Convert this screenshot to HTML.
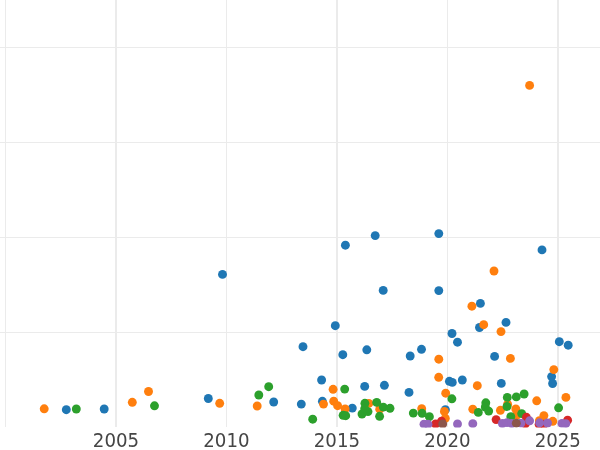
<!DOCTYPE html>
<html><head><meta charset="utf-8"><title>chart</title>
<style>
html,body{margin:0;padding:0;background:#fff;}
body{width:600px;height:450px;overflow:hidden;}
svg{display:block;will-change:transform;}
text{font-family:"DejaVu Sans","Liberation Sans",sans-serif;font-size:18.2px;fill:#454545;}
</style></head><body>
<svg width="600" height="450" viewBox="0 0 600 450">
<rect width="600" height="450" fill="#ffffff"/>
<defs><clipPath id="ax"><rect x="0" y="0" width="600" height="427.4"/></clipPath></defs>
<g stroke="#ebebeb" fill="none">
<line x1="5.5" y1="0" x2="5.5" y2="427" stroke-width="1"/>
<line x1="116" y1="0" x2="116" y2="427" stroke-width="2"/>
<line x1="226.5" y1="0" x2="226.5" y2="427" stroke-width="1"/>
<line x1="337" y1="0" x2="337" y2="427" stroke-width="2"/>
<line x1="447.5" y1="0" x2="447.5" y2="427" stroke-width="1"/>
<line x1="558" y1="0" x2="558" y2="427" stroke-width="2"/>
<line x1="0" y1="47.5" x2="600" y2="47.5" stroke-width="1"/>
<line x1="0" y1="142.5" x2="600" y2="142.5" stroke-width="1"/>
<line x1="0" y1="237.5" x2="600" y2="237.5" stroke-width="1"/>
<line x1="0" y1="332.5" x2="600" y2="332.5" stroke-width="1"/>
</g>
<g clip-path="url(#ax)">
<g fill="#1f77b4">
<circle cx="66.3" cy="409.7" r="4.45"/>
<circle cx="104.2" cy="409" r="4.45"/>
<circle cx="208.3" cy="398.5" r="4.45"/>
<circle cx="273.7" cy="402" r="4.45"/>
<circle cx="301.3" cy="404.1" r="4.45"/>
<circle cx="321.6" cy="380" r="4.45"/>
<circle cx="322.4" cy="401.3" r="4.45"/>
<circle cx="352.3" cy="408.1" r="4.45"/>
<circle cx="364.7" cy="386.4" r="4.45"/>
<circle cx="384.4" cy="385.3" r="4.45"/>
<circle cx="409" cy="392.4" r="4.45"/>
<circle cx="449.4" cy="381.3" r="4.45"/>
<circle cx="452.3" cy="382.4" r="4.45"/>
<circle cx="462.3" cy="380" r="4.45"/>
<circle cx="501.3" cy="383.4" r="4.45"/>
<circle cx="445.4" cy="409.7" r="4.45"/>
<circle cx="552.6" cy="383.5" r="4.45"/>
<circle cx="551.6" cy="376.6" r="4.45"/>
<circle cx="335.3" cy="325.7" r="4.45"/>
<circle cx="303" cy="346.7" r="4.45"/>
<circle cx="342.8" cy="354.7" r="4.45"/>
<circle cx="366.8" cy="349.8" r="4.45"/>
<circle cx="452" cy="333.5" r="4.45"/>
<circle cx="457.5" cy="342.2" r="4.45"/>
<circle cx="421.5" cy="349.3" r="4.45"/>
<circle cx="410.2" cy="356" r="4.45"/>
<circle cx="479.5" cy="327.5" r="4.45"/>
<circle cx="480.4" cy="303.4" r="4.45"/>
<circle cx="506" cy="322.4" r="4.45"/>
<circle cx="559.3" cy="341.7" r="4.45"/>
<circle cx="568.2" cy="345.2" r="4.45"/>
<circle cx="494.6" cy="356.4" r="4.45"/>
<circle cx="345.4" cy="245.2" r="4.45"/>
<circle cx="375.2" cy="235.6" r="4.45"/>
<circle cx="438.8" cy="233.6" r="4.45"/>
<circle cx="383.2" cy="290.4" r="4.45"/>
<circle cx="438.8" cy="290.6" r="4.45"/>
<circle cx="222.5" cy="274.4" r="4.45"/>
<circle cx="542" cy="249.9" r="4.45"/>
</g>
<g fill="#ff7f0e">
<circle cx="44.2" cy="408.8" r="4.45"/>
<circle cx="132.3" cy="402.3" r="4.45"/>
<circle cx="148.5" cy="391.5" r="4.45"/>
<circle cx="219.7" cy="403.3" r="4.45"/>
<circle cx="257.2" cy="406" r="4.45"/>
<circle cx="333.1" cy="389.3" r="4.45"/>
<circle cx="323.5" cy="404.1" r="4.45"/>
<circle cx="333.7" cy="401.2" r="4.45"/>
<circle cx="337.6" cy="405.7" r="4.45"/>
<circle cx="345.1" cy="408.9" r="4.45"/>
<circle cx="368.8" cy="403.4" r="4.45"/>
<circle cx="379.7" cy="409.2" r="4.45"/>
<circle cx="438.7" cy="377.3" r="4.45"/>
<circle cx="445.7" cy="393.2" r="4.45"/>
<circle cx="421.7" cy="408.7" r="4.45"/>
<circle cx="444.4" cy="411.4" r="4.45"/>
<circle cx="445.3" cy="418.3" r="4.45"/>
<circle cx="477.3" cy="385.7" r="4.45"/>
<circle cx="472.8" cy="409.2" r="4.45"/>
<circle cx="500.4" cy="410.3" r="4.45"/>
<circle cx="507.6" cy="404.2" r="4.45"/>
<circle cx="515.8" cy="409" r="4.45"/>
<circle cx="516.8" cy="415" r="4.45"/>
<circle cx="536.7" cy="400.8" r="4.45"/>
<circle cx="543.9" cy="415.6" r="4.45"/>
<circle cx="539.4" cy="420.7" r="4.45"/>
<circle cx="552.8" cy="421.3" r="4.45"/>
<circle cx="565.9" cy="397.4" r="4.45"/>
<circle cx="438.8" cy="359.2" r="4.45"/>
<circle cx="483.7" cy="324.7" r="4.45"/>
<circle cx="471.9" cy="306.2" r="4.45"/>
<circle cx="494" cy="271" r="4.45"/>
<circle cx="501" cy="331.6" r="4.45"/>
<circle cx="510.4" cy="358.4" r="4.45"/>
<circle cx="553.8" cy="369.6" r="4.45"/>
<circle cx="529.6" cy="85.4" r="4.45"/>
</g>
<g fill="#2ca02c">
<circle cx="76.3" cy="409" r="4.45"/>
<circle cx="154.5" cy="405.8" r="4.45"/>
<circle cx="258.8" cy="395" r="4.45"/>
<circle cx="268.7" cy="386.7" r="4.45"/>
<circle cx="344.7" cy="389.1" r="4.45"/>
<circle cx="312.7" cy="419.2" r="4.45"/>
<circle cx="343.1" cy="415.3" r="4.45"/>
<circle cx="345.7" cy="415.7" r="4.45"/>
<circle cx="364.9" cy="403.3" r="4.45"/>
<circle cx="376.7" cy="402.4" r="4.45"/>
<circle cx="362" cy="414" r="4.45"/>
<circle cx="368" cy="411.6" r="4.45"/>
<circle cx="364.7" cy="408.7" r="4.45"/>
<circle cx="383.3" cy="407.1" r="4.45"/>
<circle cx="390" cy="408.3" r="4.45"/>
<circle cx="379.6" cy="416.3" r="4.45"/>
<circle cx="451.9" cy="398.8" r="4.45"/>
<circle cx="413.3" cy="413.1" r="4.45"/>
<circle cx="422.1" cy="413.3" r="4.45"/>
<circle cx="429.4" cy="416.7" r="4.45"/>
<circle cx="507.3" cy="397.4" r="4.45"/>
<circle cx="485.8" cy="402.8" r="4.45"/>
<circle cx="485.3" cy="407" r="4.45"/>
<circle cx="488.7" cy="411.1" r="4.45"/>
<circle cx="478.3" cy="412.4" r="4.45"/>
<circle cx="507" cy="406.5" r="4.45"/>
<circle cx="516.3" cy="396.9" r="4.45"/>
<circle cx="524.1" cy="394" r="4.45"/>
<circle cx="521.7" cy="413.6" r="4.45"/>
<circle cx="510.8" cy="416.7" r="4.45"/>
<circle cx="558.6" cy="407.8" r="4.45"/>
</g>
<g fill="#d62728">
<circle cx="435.6" cy="424" r="4.45"/>
<circle cx="441.5" cy="421.2" r="4.45"/>
<circle cx="496.1" cy="419.6" r="4.45"/>
<circle cx="526.4" cy="417.3" r="4.45"/>
<circle cx="525.3" cy="423.8" r="4.45"/>
<circle cx="544" cy="424.3" r="4.45"/>
<circle cx="539.1" cy="424.3" r="4.45"/>
<circle cx="567.6" cy="420.2" r="4.45"/>
</g>
<g fill="#9467bd">
<circle cx="424" cy="424.2" r="4.45"/>
<circle cx="428" cy="424.3" r="4.45"/>
<circle cx="457.5" cy="424" r="4.45"/>
<circle cx="472.8" cy="423.7" r="4.45"/>
<circle cx="502.4" cy="423.5" r="4.45"/>
<circle cx="507" cy="422.6" r="4.45"/>
<circle cx="511.7" cy="423.5" r="4.45"/>
<circle cx="521" cy="423.1" r="4.45"/>
<circle cx="529.6" cy="420.8" r="4.45"/>
<circle cx="539.6" cy="422.8" r="4.45"/>
<circle cx="547.5" cy="423" r="4.45"/>
<circle cx="562" cy="423.4" r="4.45"/>
<circle cx="565.8" cy="423.6" r="4.45"/>
</g>
<g fill="#8c564b">
<circle cx="442.7" cy="424" r="4.45"/>
<circle cx="516.3" cy="423.2" r="4.45"/>
</g>
</g>
<g text-anchor="middle">
<text transform="translate(116.0,447.3) scale(1,1.045)" x="0" y="0">2005</text>
<text transform="translate(226.4,447.3) scale(1,1.045)" x="0" y="0">2010</text>
<text transform="translate(336.9,447.3) scale(1,1.045)" x="0" y="0">2015</text>
<text transform="translate(447.4,447.3) scale(1,1.045)" x="0" y="0">2020</text>
<text transform="translate(557.8,447.3) scale(1,1.045)" x="0" y="0">2025</text>
</g></svg></body></html>
